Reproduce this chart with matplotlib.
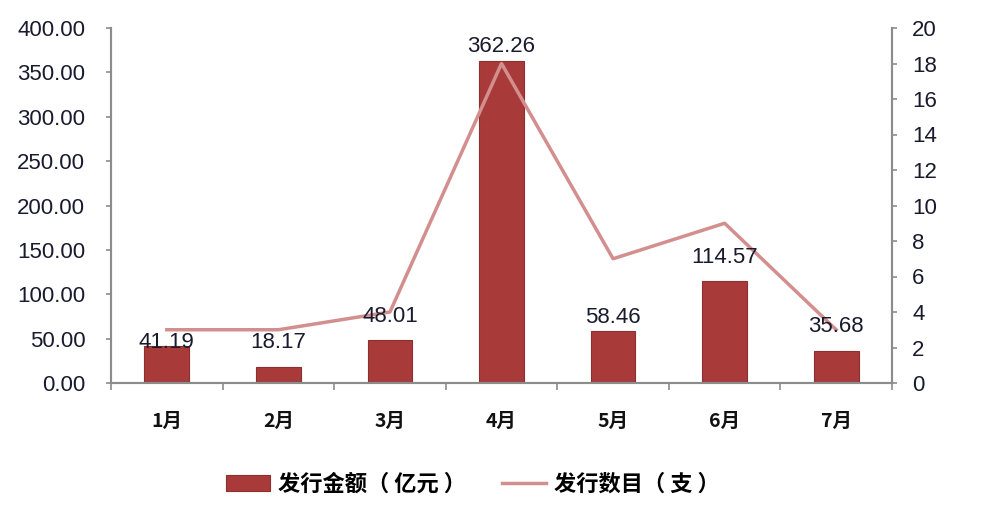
import matplotlib
matplotlib.use("Agg")
import matplotlib.pyplot as plt
from matplotlib.ticker import FormatStrFormatter, MultipleLocator, FixedLocator
import numpy as np

categories = ["1月", "2月", "3月", "4月", "5月", "6月", "7月"]
amounts = [41.19, 18.17, 48.01, 362.26, 58.46, 114.57, 35.68]
counts = [3, 3, 4, 18, 7, 9, 3]
bar_name = "发行金额（ 亿元 ）"
line_name = "发行数目（ 支 ）"

label_offsets = [4, 24, 24, 15, 14, 24, 25]  # pixel offsets of value labels above bars

plt.rcParams['font.family'] = ['Liberation Sans', 'DejaVu Sans']
cjk = ['Noto Sans CJK SC', 'DejaVu Sans']

fig = plt.figure(figsize=(9.85, 5.07), dpi=100)
ax = fig.add_axes([111/985, 1-383/507, (892-111)/985, (383-28)/507])
ax2 = ax.twinx()

x = np.arange(len(categories))
bar_color = "#A83A3A"
line_color = "#D38E8E"
axis_color = "#8C8C8C"
text_color = "#1A1A2E"

bars = ax.bar(x, amounts, width=0.4, color=bar_color, edgecolor="#8E2E2E", linewidth=0.8,
              label=bar_name, zorder=2)
line, = ax2.plot(x, counts, color=line_color, linewidth=2.5, label=line_name, zorder=3)

ax.set_xlim(-0.5, len(categories) - 0.5)
ax.set_ylim(0, 400)
ax2.set_ylim(0, 20)
ax.yaxis.set_major_locator(MultipleLocator(50))
ax.yaxis.set_major_formatter(FormatStrFormatter('%.2f'))
ax2.yaxis.set_major_locator(MultipleLocator(2))

ax.set_xticks(x)
ax.set_xticklabels(categories, fontfamily=cjk, fontsize=14, color="#111111", fontweight='bold')
ax.tick_params(axis='x', which='major', length=0, pad=21)
ax.xaxis.set_minor_locator(FixedLocator(np.arange(-0.5, len(categories), 1.0)))
ax.tick_params(axis='x', which='minor', length=5, width=1.2, color=axis_color, direction='out')

ax.tick_params(axis='y', length=3.5, width=1.2, color=axis_color, labelsize=16,
               labelcolor=text_color, pad=15)
ax2.tick_params(axis='y', length=3.5, width=1.2, color=axis_color, labelsize=16,
                labelcolor=text_color, pad=11)

for a in (ax, ax2):
    a.spines['top'].set_visible(False)
    for s in ('left', 'right', 'bottom'):
        a.spines[s].set_color(axis_color)
        a.spines[s].set_linewidth(1.5)

ax.set_zorder(1)
ax2.set_zorder(2)
ax2.patch.set_visible(False)

for xi, v, off in zip(x, amounts, label_offsets):
    ax2.annotate(f"{v:.2f}", xy=(xi, v / 20.0), xytext=(0, off * 0.72),
                 textcoords='offset points', ha='center', va='center',
                 fontsize=16, color=text_color, zorder=5)

fig.legend(handles=[bars, line], labels=[bar_name, line_name], loc='center',
           bbox_to_anchor=(0.48, 0.045), ncol=2, frameon=False,
           prop={'family': cjk, 'size': 16, 'weight': 'bold'}, handlelength=2.0,
           columnspacing=1.6, handletextpad=0.35)

fig.savefig("out.png", dpi=100)
